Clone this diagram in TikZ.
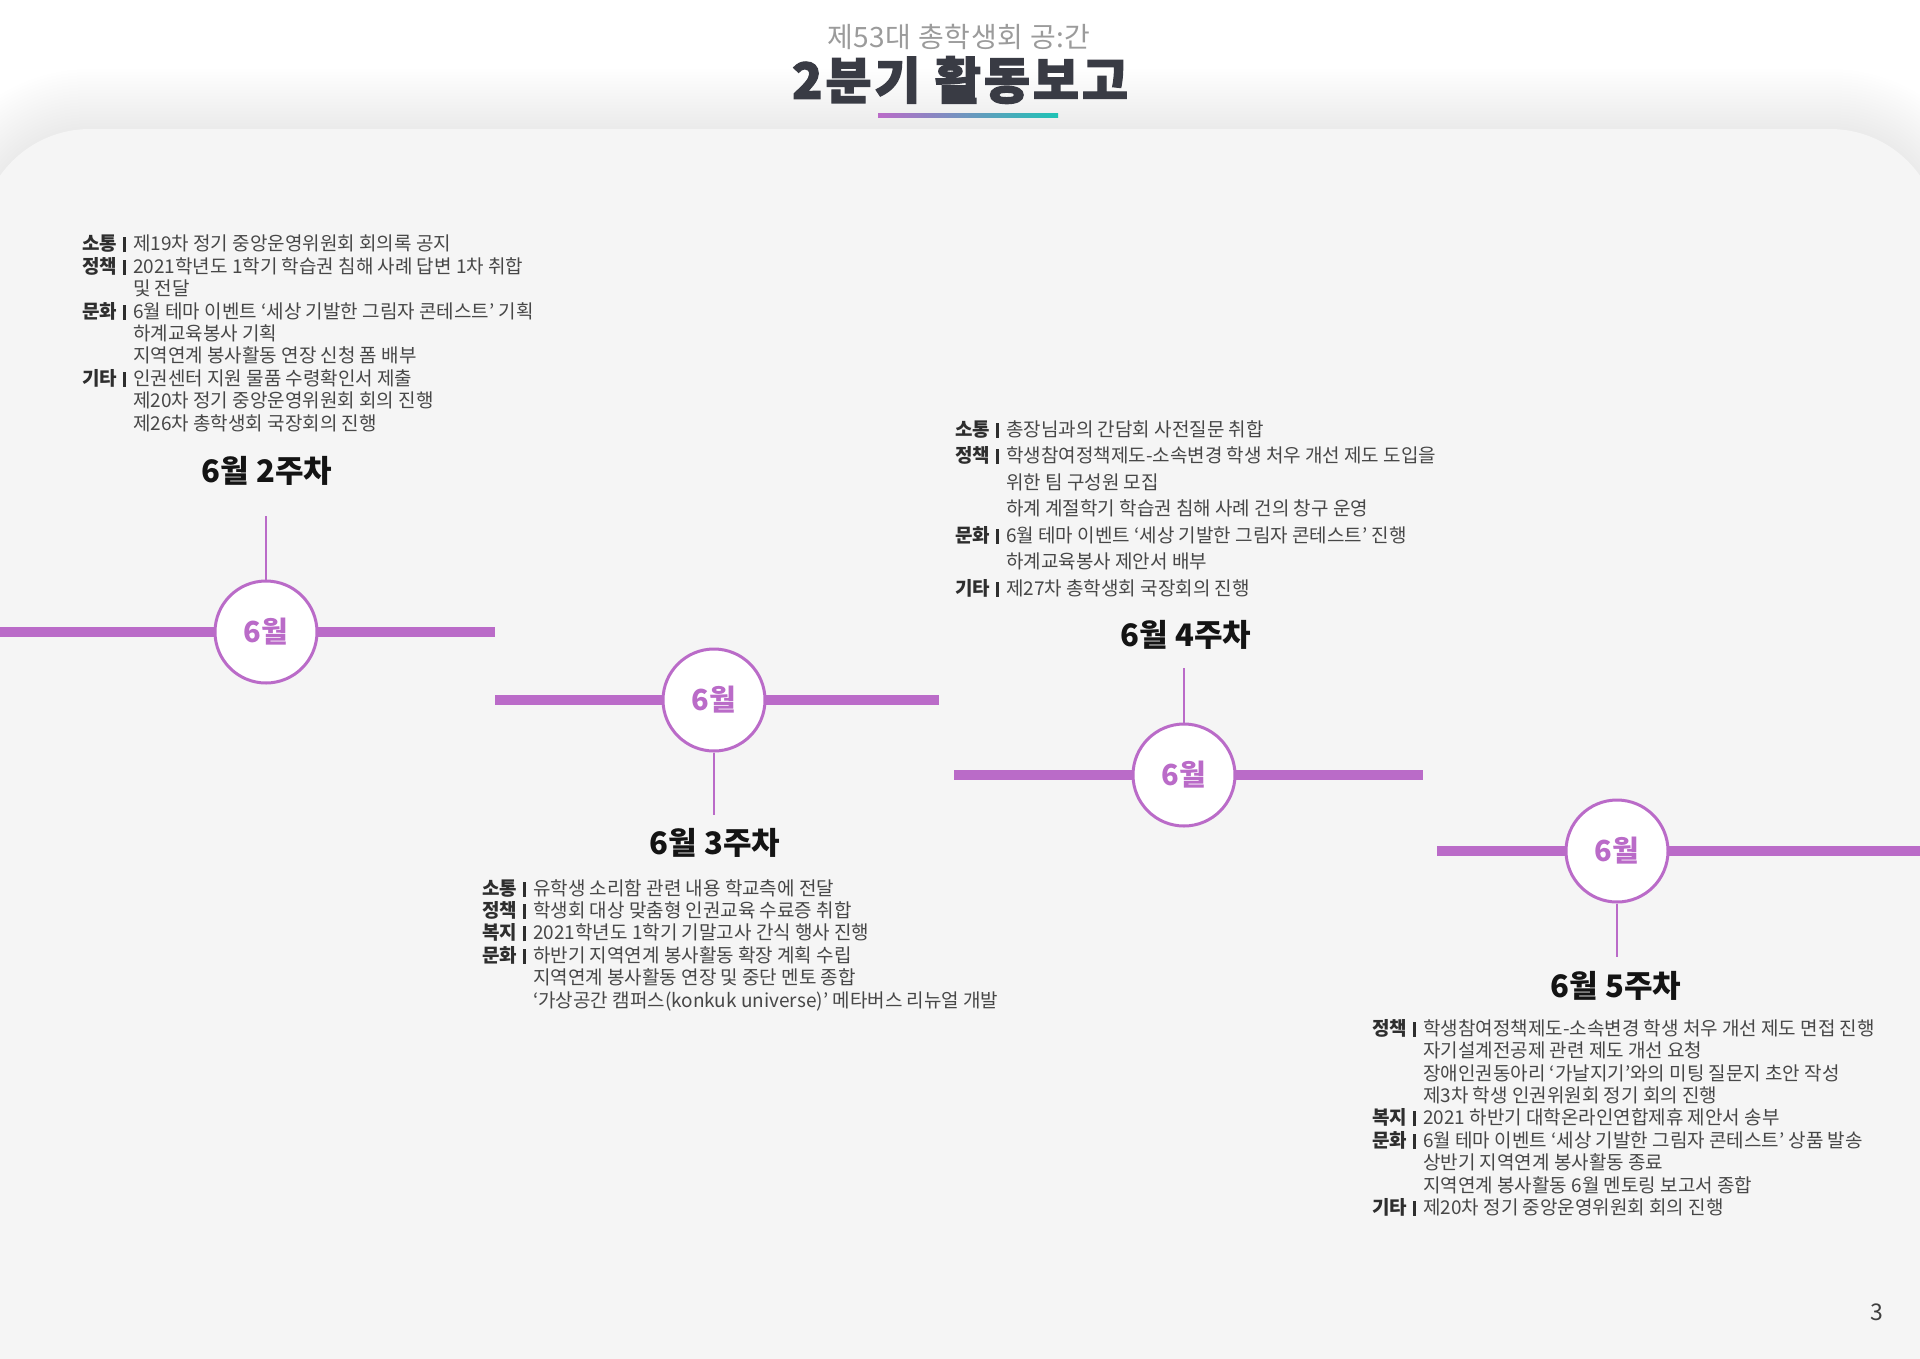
\documentclass[tikz,border=0pt]{standalone}
\usepackage{fontspec}
\setmainfont{Noto Sans CJK KR}
\newfontfamily\heavyfont[BoldFeatures={FakeBold=2.5}, LetterSpace=6]{Noto Sans CJK KR}
\newfontfamily\subfont[LetterSpace=2]{Noto Sans CJK KR}
\definecolor{purp}{HTML}{BA6BC8}
\definecolor{tealc}{HTML}{1EC3B5}
\definecolor{panelc}{HTML}{F5F5F5}
\definecolor{titlec}{HTML}{393B44}
\definecolor{subc}{HTML}{9B9B9B}
\definecolor{bodyc}{HTML}{474747}
\definecolor{labc}{HTML}{2E2E2E}
\newcommand{\seclab}[1]{\makebox[51pt][l]{{\bfseries\color{labc}#1}\hspace{6pt}{\color{labc}\rule[-1.5pt]{3pt}{15pt}}}}
\newcommand{\contind}{\hspace*{51pt}}
\tikzset{
  bodytext/.style={anchor=north west, inner sep=0pt, align=left, text=bodyc, font=\fontsize{19}{22.4}\selectfont},
  headtext/.style={inner sep=0pt, text=black!92, font=\bfseries\fontsize{31}{36}\selectfont},
  monthcirc/.style={circle, draw=purp, line width=3pt, fill=white, minimum size=102pt, inner sep=0pt, text=purp, font=\bfseries\fontsize{29}{34}\selectfont},
  tline/.style={draw=purp, line width=10pt},
  vline/.style={draw=purp, line width=2pt}
}
\begin{document}
\begin{tikzpicture}[x=1pt,y=-1pt]
\useasboundingbox (0,0) rectangle (1920,1358);
% page background
\fill[white] (0,0) rectangle (1920,1358);
% soft shadow of the panel
\foreach \e in {1,...,20}{
  \fill[black, opacity=0.005, rounded corners={110pt+3pt*\e}] ({-20-3*\e},{129-3*\e}) rectangle ({1940+3*\e},1420);
}
\fill[panelc, rounded corners=110pt] (-20,129) rectangle (1940,1420);

% title
\node[inner sep=0pt, text=subc, font=\subfont\fontsize{28}{32}\selectfont] (sub) at (959,37) {제53대 총학생회 공:간};
\node[inner sep=0pt, text=titlec, font=\heavyfont\bfseries\fontsize{50}{56}\selectfont] (title) at (960,80) {2분기 활동보고};
\shade[left color=purp, right color=tealc] (878,113) rectangle (1058,117);

% timeline bars
\coordinate (a1) at (0,632);   \coordinate (b1) at (495,632);
\coordinate (a2) at (495,700); \coordinate (b2) at (939,700);
\coordinate (a3) at (954,775); \coordinate (b3) at (1423,775);
\coordinate (a4) at (1437,851); \coordinate (b4) at (1920,851);
\draw[tline] (a1) -- (b1);
\draw[tline] (a2) -- (b2);
\draw[tline] (a3) -- (b3);
\draw[tline] (a4) -- (b4);

% circles
\node[monthcirc] (c1) at (266,632) {6월};
\node[monthcirc] (c2) at (714,700) {6월};
\node[monthcirc] (c3) at (1184,775) {6월};
\node[monthcirc] (c4) at (1617,851) {6월};

% connector ends
\coordinate (v1) at (266,516);
\coordinate (v2) at (714,815);
\coordinate (v3) at (1184,668);
\coordinate (v4) at (1617,957);
\draw[vline] (v1) -- (c1.north);
\draw[vline] (c2.south) -- (v2);
\draw[vline] (v3) -- (c3.north);
\draw[vline] (c4.south) -- (v4);

% headings
\node[headtext] (h1) at (267,471) {6월 2주차};
\node[headtext] (h2) at (715,843) {6월 3주차};
\node[headtext] (h3) at (1186,635) {6월 4주차};
\node[headtext] (h4) at (1616,986) {6월 5주차};

% text blocks
\node[bodytext] (t1) at (82,235) {%
\seclab{소통}제19차 정기 중앙운영위원회 회의록 공지\\
\seclab{정책}2021학년도 1학기 학습권 침해 사례 답변 1차 취합\\
\contind 및 전달\\
\seclab{문화}6월 테마 이벤트 ‘세상 기발한 그림자 콘테스트’ 기획\\
\contind 하계교육봉사 기획\\
\contind 지역연계 봉사활동 연장 신청 폼 배부\\
\seclab{기타}인권센터 지원 물품 수령확인서 제출\\
\contind 제20차 정기 중앙운영위원회 회의 진행\\
\contind 제26차 총학생회 국장회의 진행};

\node[bodytext] (t2) at (482,879) {%
\seclab{소통}유학생 소리함 관련 내용 학교측에 전달\\
\seclab{정책}학생회 대상 맞춤형 인권교육 수료증 취합\\
\seclab{복지}2021학년도 1학기 기말고사 간식 행사 진행\\
\seclab{문화}하반기 지역연계 봉사활동 확장 계획 수립\\
\contind 지역연계 봉사활동 연장 및 중단 멘토 종합\\
\contind ‘가상공간 캠퍼스(konkuk universe)’ 메타버스 리뉴얼 개발};

\node[bodytext, font=\fontsize{19}{26.5}\selectfont] (t3) at (955,420) {%
\seclab{소통}총장님과의 간담회 사전질문 취합\\
\seclab{정책}학생참여정책제도-소속변경 학생 처우 개선 제도 도입을\\
\contind 위한 팀 구성원 모집\\
\contind 하계 계절학기 학습권 침해 사례 건의 창구 운영\\
\seclab{문화}6월 테마 이벤트 ‘세상 기발한 그림자 콘테스트’ 진행\\
\contind 하계교육봉사 제안서 배부\\
\seclab{기타}제27차 총학생회 국장회의 진행};

\node[bodytext] (t4) at (1372,1019) {%
\seclab{정책}학생참여정책제도-소속변경 학생 처우 개선 제도 면접 진행\\
\contind 자기설계전공제 관련 제도 개선 요청\\
\contind 장애인권동아리 ‘가날지기’와의 미팅 질문지 초안 작성\\
\contind 제3차 학생 인권위원회 정기 회의 진행\\
\seclab{복지}2021 하반기 대학온라인연합제휴 제안서 송부\\
\seclab{문화}6월 테마 이벤트 ‘세상 기발한 그림자 콘테스트’ 상품 발송\\
\contind 상반기 지역연계 봉사활동 종료\\
\contind 지역연계 봉사활동 6월 멘토링 보고서 종합\\
\seclab{기타}제20차 정기 중앙운영위원회 회의 진행};

% page number
\node[inner sep=0pt, text=black!75, font=\fontsize{23}{26}\selectfont] (pg) at (1877,1312) {3};
\end{tikzpicture}
\end{document}
